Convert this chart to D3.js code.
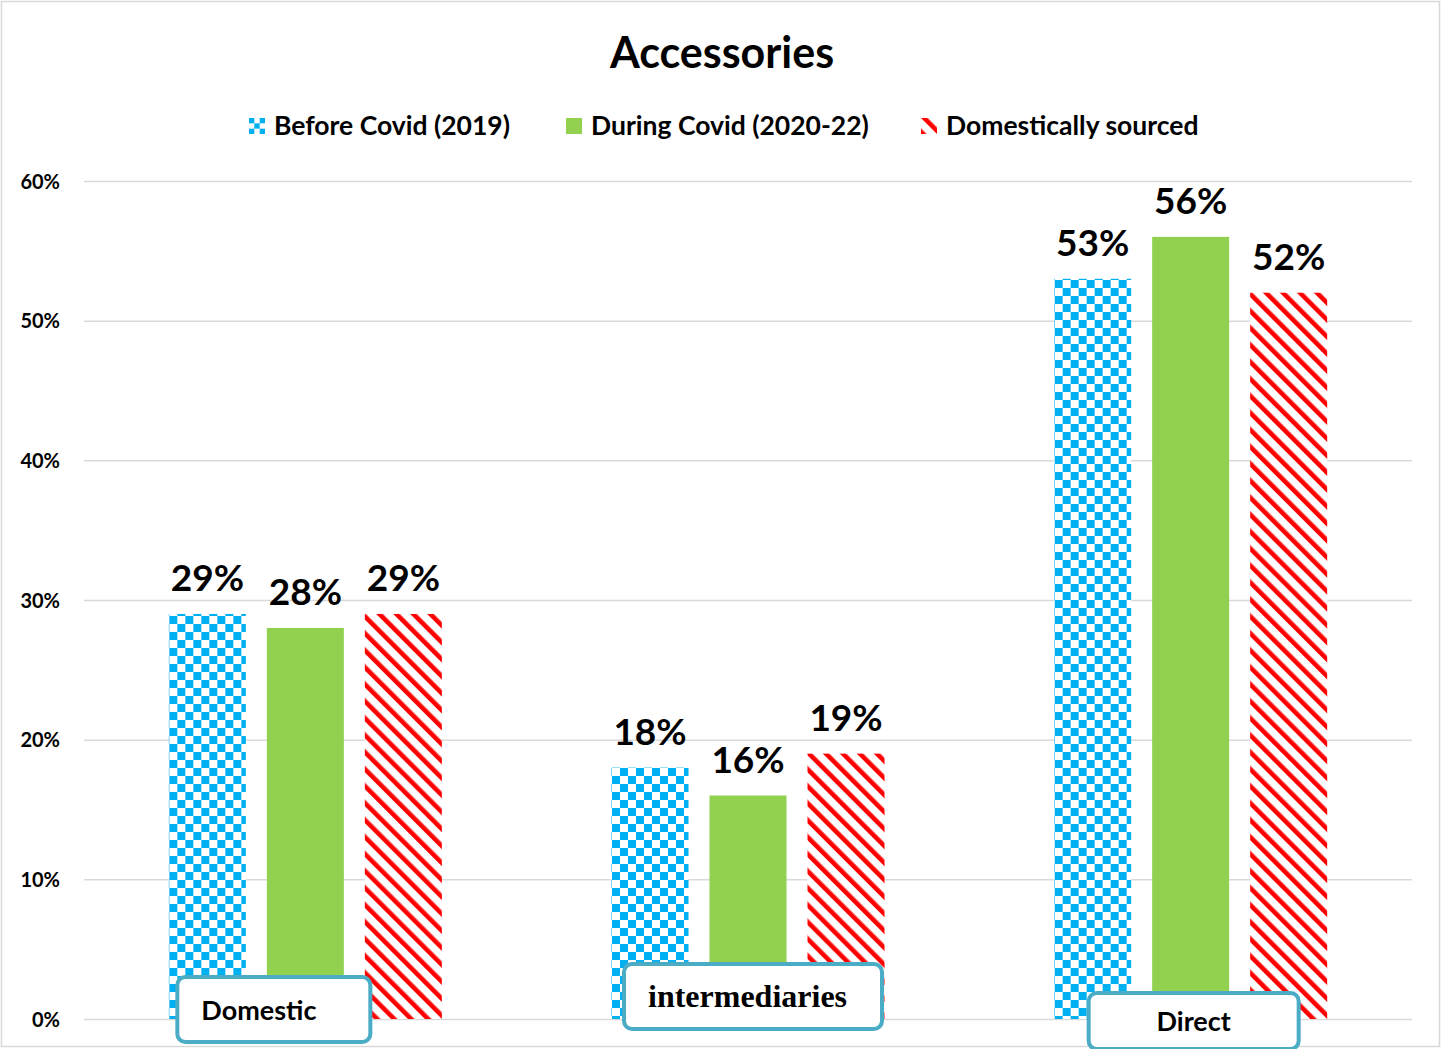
<!DOCTYPE html>
<html>
<head>
<meta charset="utf-8">
<script src="https://cdn.jsdelivr.net/npm/d3@7"></script>
<style>
  html, body { margin: 0; padding: 0; background: #fff; }
  svg { display: block; }
</style>
</head>
<body>
<svg id="chart" width="1441" height="1049"></svg>
<script>
// Sales channel shares for accessories
const categories = ["Domestic", "intermediaries", "Direct"];
const seriesNames = ["Before Covid (2019)", "During Covid (2020-22)", "Domestically sourced"];
const beforeCovid = [0.29, 0.18, 0.53];
const duringCovid = [0.28, 0.16, 0.56];
const domesticallySourced = [0.29, 0.19, 0.52];
const yTicks = [0, 0.1, 0.2, 0.3, 0.4, 0.5, 0.6];
const chartTitle = "Accessories";

const W = 1441, H = 1049;
const margin = { top: 181, right: 29, bottom: 30, left: 84 };
const svg = d3.select("#chart");
const SANS = "Lato, 'Open Sans', sans-serif";
const SERIF = "'Liberation Serif', 'DejaVu Serif', serif";

// ---- fill patterns ----
const defs = svg.append("defs");
const checker = defs.append("pattern")
  .attr("id", "checker").attr("patternUnits", "userSpaceOnUse")
  .attr("width", 16).attr("height", 16);
checker.append("rect").attr("width", 16).attr("height", 16).attr("fill", "#fff");
checker.append("rect").attr("width", 8).attr("height", 8).attr("fill", "#00B0F0");
checker.append("rect").attr("x", 8).attr("y", 8).attr("width", 8).attr("height", 8).attr("fill", "#00B0F0");

const stripes = defs.append("pattern")
  .attr("id", "stripes").attr("patternUnits", "userSpaceOnUse")
  .attr("width", 12).attr("height", 12)
  .attr("patternTransform", "rotate(-45)");
stripes.append("rect").attr("width", 12).attr("height", 12).attr("fill", "#fff");
stripes.append("rect").attr("width", 4.6).attr("height", 12).attr("fill", "#FF0000");

const fills = ["url(#checker)", "#92D050", "url(#stripes)"];
const seriesValues = [beforeCovid, duringCovid, domesticallySourced];

// ---- outer frame ----
svg.append("rect")
  .attr("x", 1.5).attr("y", 1.5).attr("width", W - 3).attr("height", H - 4)
  .attr("fill", "#fff").attr("stroke", "#d9d9d9").attr("stroke-width", 1.5);

// ---- scales ----
const x0 = d3.scaleBand().domain(categories)
  .range([margin.left, W - margin.right]).paddingInner(0).paddingOuter(0);
const y = d3.scaleLinear().domain([0, 0.6]).range([1019, margin.top]);
const barW = 77, barGap = 21;
const groupW = 3 * barW + 2 * barGap;
const x1 = d3.scaleBand().domain(seriesNames)
  .range([-groupW / 2, groupW / 2]).paddingInner(barGap / (barW + barGap)).paddingOuter(0);

// ---- gridlines & y axis ----
const yAxis = d3.axisLeft(y).tickValues(yTicks)
  .tickFormat(d3.format(".0%")).tickSize(-(W - margin.right - margin.left)).tickPadding(24);
const gy = svg.append("g").attr("transform", `translate(${margin.left},0)`).call(yAxis);
gy.select(".domain").remove();
gy.selectAll(".tick line").attr("stroke", "#d9d9d9").attr("stroke-width", 1.5);
gy.selectAll(".tick text")
  .attr("font-family", SANS).attr("font-weight", "bold").attr("font-size", 20)
  .attr("fill", "#000").attr("x", -24).attr("dy", "0.35em");

// ---- title ----
svg.append("text").attr("x", 722).attr("y", 68).attr("text-anchor", "middle")
  .attr("font-family", SANS).attr("font-weight", "bold").attr("font-size", 43)
  .attr("fill", "#000").text(chartTitle);

// ---- legend ----
const legendX = [249, 566, 921];
const leg = svg.append("g");
seriesNames.forEach((name, i) => {
  const g = leg.append("g").attr("transform", `translate(${legendX[i]},118)`);
  if (i === 0) {
    const s = 5.33;
    [[0,0],[2,0],[1,1],[0,2],[2,2]].forEach(([c, r]) =>
      g.append("rect").attr("x", c * s).attr("y", r * s).attr("width", s).attr("height", s).attr("fill", "#00B0F0"));
  } else if (i === 1) {
    g.append("rect").attr("width", 16).attr("height", 16).attr("fill", "#92D050");
  } else {
    g.append("rect").attr("width", 16).attr("height", 16).attr("fill", "url(#stripes)");
  }
  g.append("text").attr("x", 25).attr("y", 17)
    .attr("font-family", SANS).attr("font-weight", "bold").attr("font-size", 26.5)
    .attr("fill", "#000").text(name);
});

// ---- bars ----
const groups = svg.append("g").selectAll("g").data(categories).join("g")
  .attr("transform", d => `translate(${x0(d) + x0.bandwidth() / 2},0)`);

groups.each(function (cat, ci) {
  const g = d3.select(this);
  seriesNames.forEach((s, si) => {
    const v = seriesValues[si][ci];
    g.append("rect")
      .attr("x", x1(s)).attr("y", y(v))
      .attr("width", x1.bandwidth()).attr("height", y(0) - y(v))
      .attr("fill", fills[si]);
    g.append("text")
      .attr("x", x1(s) + x1.bandwidth() / 2).attr("y", y(v) - 23)
      .attr("text-anchor", "middle")
      .attr("font-family", SANS).attr("font-weight", "bold").attr("font-size", 37)
      .attr("fill", "#000").text(d3.format(".0%")(v));
  });
});

// ---- category label boxes ----
const boxLayout = [
  { dx: -128, top: 977, w: 193, h: 65, tx: 24, anchor: "start", font: SANS, size: 27 },
  { dx: -124, top: 964, w: 258, h: 65, tx: 24, anchor: "start", font: SERIF, size: 32 },
  { dx: -102, top: 993, w: 210, h: 56, tx: 105, anchor: "middle", font: SANS, size: 27 }
];
categories.forEach((cat, i) => {
  const b = boxLayout[i];
  const cx = x0(cat) + x0.bandwidth() / 2;
  const g = svg.append("g").attr("transform", `translate(${cx + b.dx},${b.top})`);
  g.append("rect").attr("width", b.w).attr("height", b.h).attr("rx", 8)
    .attr("fill", "#fff").attr("stroke", "#4BACC6").attr("stroke-width", 4);
  g.append("text").attr("x", b.tx).attr("y", b.h / 2 + 10)
    .attr("text-anchor", b.anchor)
    .attr("font-family", b.font).attr("font-weight", "bold").attr("font-size", b.size)
    .attr("fill", "#000").text(cat);
});
</script>
</body>
</html>
